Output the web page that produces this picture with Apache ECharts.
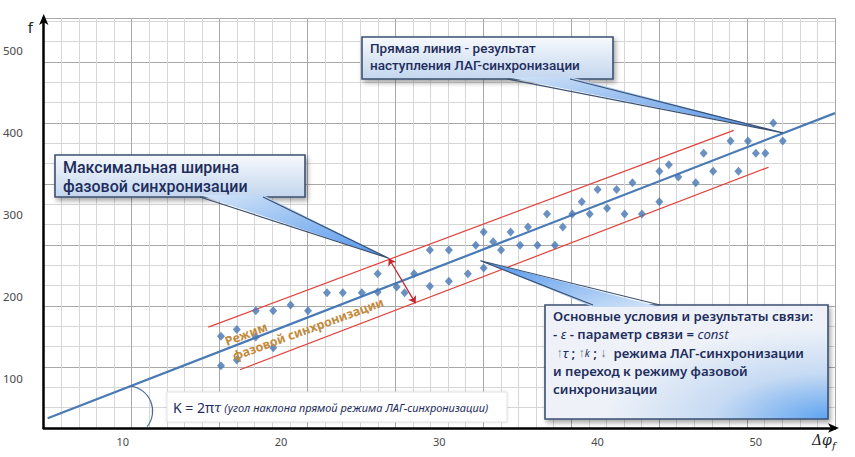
<!DOCTYPE html>
<html><head><meta charset="utf-8">
<script src="https://cdn.jsdelivr.net/npm/echarts@6/dist/echarts.min.js"></script>
<style>html,body{margin:0;padding:0;background:#fff}#c{width:855px;height:457px}</style>
</head><body><div id="c"></div>
<script>
// ---- data ----
const xTickValues = [10, 20, 30, 40, 50];
const yTickValues = [100, 200, 300, 400, 500];
const phaseX = [16.2,16.2,17.2,17.2,18.4,18.4,19.5,19.5,20.6,21.7,22.9,23.9,25.1,26.1,26.1,27.3,27.8,28.4,29.4,29.4,30.6,30.6,31.8,32.3,32.8,33.4,32.8,33.9,34.5,35.1,35.6,36.2,36.8,37.3,37.8,38.4,39.0,39.5,40.0,40.6,41.2,41.7,42.2,42.8,43.9,43.9,44.5,45.1,46.2,46.7,47.3,48.4,48.9,49.5,50.0,50.6,51.1,51.7];
const phaseF = [152,116,160,123,183,151,183,138,190,183,205,205,205,228,206,212,205,228,257,213,257,219,228,263,279,267,235,257,279,263,285,263,301,263,285,301,316,301,331,308,331,301,339,301,353,316,361,346,339,375,353,390,353,390,375,375,412,390];
const lagLineX = [5.25, 55];
const lagLineF = [52, 424];
const upperBandX = [15.4, 48.6];
const upperBandF = [163, 403];
const lowerBandX = [17.4, 50.8];
const lowerBandF = [111, 358];
const widthArrowX = [26.8, 28.5];
const widthArrowF = [247, 192];
const tipLagX = 51.7, tipLagF = 400;
const tipCondX = 32.6, tipCondF = 244;

const textLag = 'Прямая линия - результат\nнаступления ЛАГ-синхронизации';
const textWidth = 'Максимальная ширина\nфазовой синхронизации';
const textCond = 'Основные условия и результаты связи:\n- {i|ε} - параметр связи = {i|const}\n {g|↑}{i|τ} ; {g|↑}{s|k} ; {g|↓}  режима ЛАГ-синхронизации\nи переход к режиму фазовой\nсинхронизации';
const textK = '{a|K = 2π}{b|τ}{c| (угол наклона прямой режима ЛАГ-синхронизации)}';

const pairs = (xs, ys) => xs.map((x, i) => [x, ys[i]]);

const chart = echarts.init(document.getElementById('c'), null, {renderer: 'svg'});
const option = {
  animation: false,
  backgroundColor: '#ffffff',
  grid: {left: 43, right: 20, top: 18, bottom: 29},
  xAxis: [
    {type: 'value', min: 5, max: 55, interval: 5, z: 5,
     axisLine: {show: true, onZero: false, lineStyle: {color: '#000', width: 2.5}, symbol: ['none', 'arrow'], symbolSize: [7, 11], symbolOffset: [0, 4]},
     axisTick: {show: false}, splitLine: {show: false},
     axisLabel: {formatter: v => xTickValues.includes(v) ? String(v) : '', color: '#4a4a4a', fontFamily: 'Noto Sans', fontSize: 11, margin: 8}},
    {type: 'value', min: 0, max: 9, interval: 1, position: 'top',
     axisLine: {show: false}, axisTick: {show: false}, axisLabel: {show: false},
     splitLine: {show: true, lineStyle: {color: '#a8a8a8', width: 1}},
     minorTick: {show: false, splitNumber: 5},
     minorSplitLine: {show: true, lineStyle: {color: '#d6d6d6', width: 1}}}
  ],
  yAxis: [
    {type: 'value', min: 40, max: 540, interval: 20, z: 5,
     axisLine: {show: true, onZero: false, lineStyle: {color: '#000', width: 2.5}, symbol: ['none', 'arrow'], symbolSize: [7, 11], symbolOffset: [0, 4]},
     axisTick: {show: false}, splitLine: {show: false},
     axisLabel: {formatter: v => yTickValues.includes(v) ? String(v) : '', color: '#4a4a4a', fontFamily: 'Noto Sans', fontSize: 11.5, margin: 21}},
    {type: 'value', min: 0, max: 6.72, interval: 1, position: 'right',
     axisLine: {show: false}, axisTick: {show: false}, axisLabel: {show: false},
     splitLine: {show: true, lineStyle: {color: '#a8a8a8', width: 1}},
     minorTick: {show: false, splitNumber: 3},
     minorSplitLine: {show: true, lineStyle: {color: '#d6d6d6', width: 1}}}
  ],
  series: [
    {type: 'line', data: pairs(upperBandX, upperBandF), showSymbol: false, symbol: 'none', lineStyle: {color: '#e2403a', width: 1.2}, z: 3},
    {type: 'line', data: pairs(lowerBandX, lowerBandF), showSymbol: false, symbol: 'none', lineStyle: {color: '#e2403a', width: 1.2}, z: 3},
    {type: 'line', data: pairs(lagLineX, lagLineF), showSymbol: false, symbol: 'none', lineStyle: {color: '#4a7ab5', width: 2.2}, z: 4},
    {type: 'scatter', data: pairs(phaseX, phaseF), symbol: 'diamond', symbolSize: [8, 9], itemStyle: {color: '#4676b3'}, z: 5},
    {type: 'lines', coordinateSystem: 'cartesian2d', data: [{coords: pairs(widthArrowX, widthArrowF)}],
     symbol: ['arrow', 'arrow'], symbolSize: 7, lineStyle: {color: '#c4262e', width: 1.3, opacity: 1}, z: 6}
  ]
};
chart.setOption(option);

const P = (x, y) => chart.convertToPixel({xAxisIndex: 0, yAxisIndex: 0}, [x, y]);
const G = echarts.graphic;
const navy = '#1e2d5c';
const edge = '#3b5070';

function callout(box, baseA, baseB, onTop, tip, boxFill, tailGrad) {
  const by = onTop ? box[1] : box[1] + box[3];
  const inset = onTop ? 2 : -2;
  return [
    {type: 'rect', shape: {x: box[0], y: box[1], width: box[2], height: box[3]}, z: 100,
     style: {fill: boxFill, stroke: edge, lineWidth: 1.6, shadowBlur: 5, shadowOffsetX: 2, shadowOffsetY: 3, shadowColor: 'rgba(0,0,0,0.35)'}},
    {type: 'polygon', shape: {points: [[baseA, by + inset], [baseB, by + inset], tip]}, z: 101,
     style: {fill: tailGrad, stroke: null}},
    {type: 'polyline', shape: {points: [[baseA, by], tip, [baseB, by]]}, z: 102,
     style: {stroke: edge, lineWidth: 1.2, fill: null}}
  ];
}

function drawGraphics() {
  const tipLag = P(tipLagX, tipLagF);
  const tipWidth = P(widthArrowX[0], widthArrowF[0]);
  const tipCond = P(tipCondX, tipCondF);
  const boxGrad = new G.LinearGradient(0, 0, 0, 1, [{offset: 0, color: '#f7f9fd'}, {offset: 1, color: '#c3d6ee'}]);
  const boxGrad2 = new G.LinearGradient(0, 0, 0, 1, [{offset: 0, color: '#f7f9fd'}, {offset: 1, color: '#c3d6ee'}]);
  const condGrad = new G.RadialGradient(1, 1, 0.8, [{offset: 0, color: '#5ea4f0'}, {offset: 0.5, color: '#c6daf3'}, {offset: 1, color: '#eef2f8'}]);
  const tg1 = new G.LinearGradient(0, 0, 1, 1, [{offset: 0, color: '#cfe2f8'}, {offset: 1, color: '#4a8ee6'}]);
  const tg2 = new G.LinearGradient(0, 0, 1, 1, [{offset: 0, color: '#d4e5f8'}, {offset: 1, color: '#4d93ec'}]);
  const tg3 = new G.LinearGradient(1, 1, 0, 0, [{offset: 0, color: '#d4e5f8'}, {offset: 1, color: '#4d93ec'}]);

  const arcC = P(10.3, 60.7);
  const regime = P(17.8, 154.6);
  const phase = P(21.7, 160.7);

  const els = [].concat(
    callout([362, 37, 251, 42], 507, 570, false, tipLag, boxGrad, tg1),
    callout([55, 155, 250, 42], 200, 263, false, tipWidth, boxGrad2, tg2),
    callout([545, 305, 283, 114], 593, 660, true, tipCond, condGrad, tg3),
    [
      {type: 'text', x: 370, y: 40, z: 110, style: {text: textLag, fill: navy, fontFamily: 'Roboto', fontSize: 13.5, fontWeight: 500, lineHeight: 16.5, align: 'left', verticalAlign: 'top'}},
      {type: 'text', x: 63, y: 158, z: 110, style: {text: textWidth, fill: navy, fontFamily: 'Roboto', fontSize: 16, fontWeight: 500, lineHeight: 19, align: 'left', verticalAlign: 'top'}},
      {type: 'text', x: 553, y: 307, z: 110, style: {text: textCond, fill: navy, fontFamily: 'Noto Sans', fontSize: 13.2, fontWeight: 600, lineHeight: 18.3, align: 'left', verticalAlign: 'top',
        rich: {i: {fontStyle: 'italic', fontWeight: 400, fontFamily: 'Noto Sans', fontSize: 13.2, fill: navy},
               s: {fontStyle: 'italic', fontWeight: 400, fontFamily: 'Noto Sans', fontSize: 10, fill: navy},
               g: {fontWeight: 400, fontFamily: 'Noto Sans', fontSize: 12.5, fill: '#6d7a90'}}}},
      {type: 'rect', shape: {x: 167, y: 392, width: 340, height: 30}, z: 90,
       style: {fill: '#ffffff', stroke: '#e2e2e2', lineWidth: 1, shadowBlur: 3, shadowColor: 'rgba(0,0,0,0.12)'}},
      {type: 'text', x: 173, y: 407, z: 95, style: {text: textK, fill: navy, align: 'left', verticalAlign: 'middle',
        rich: {a: {fontFamily: 'Noto Sans', fontSize: 14, fill: navy},
               b: {fontFamily: 'DejaVu Serif', fontStyle: 'italic', fontSize: 13, fill: navy},
               c: {fontFamily: 'Noto Sans', fontStyle: 'italic', fontSize: 11, fill: navy}}}},
      {type: 'arc', z: 20, shape: {cx: arcC[0], cy: arcC[1], r: 25, startAngle: -1.45, endAngle: 0.67, clockwise: true},
       style: {stroke: '#4a6a98', lineWidth: 1.2, fill: null}},
      {type: 'text', x: regime[0], y: regime[1], rotation: 0.36, z: 30,
       style: {text: 'Режим', fill: '#c48a3c', fontFamily: 'Noto Sans', fontSize: 12.5, fontWeight: 700, align: 'center', verticalAlign: 'middle'}},
      {type: 'text', x: phase[0], y: phase[1], rotation: 0.35, z: 30,
       style: {text: 'фазовой синхронизации', fill: '#c48a3c', fontFamily: 'Noto Sans', fontSize: 12.5, fontWeight: 700, align: 'center', verticalAlign: 'middle'}},
      {type: 'text', x: 33, y: 19, z: 50, style: {text: 'f', fill: '#222', fontFamily: 'Noto Sans', fontSize: 15, align: 'right', verticalAlign: 'top'}},
      {type: 'text', x: 812, y: 430, z: 50, style: {text: '{a|Δφ}{b|f}', fill: '#222', align: 'left', verticalAlign: 'top',
        rich: {a: {fontFamily: 'DejaVu Serif', fontStyle: 'italic', fontSize: 14, fill: '#222'},
               b: {fontFamily: 'DejaVu Serif', fontStyle: 'italic', fontSize: 10, fill: '#222', padding: [10, 0, 0, 0]}}}}
    ]
  );
  chart.setOption({graphic: {elements: els}});
}
drawGraphics();
</script>
</body></html>
